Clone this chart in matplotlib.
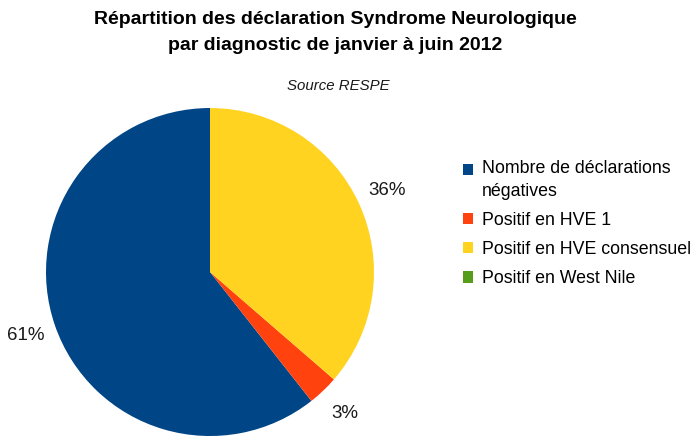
import matplotlib.pyplot as plt
from matplotlib.patches import Patch

plt.rcParams['font.family'] = ['Liberation Sans', 'DejaVu Sans']

# données (nombre de déclarations)
categories = ['Nombre de déclarations\nnégatives', 'Positif en HVE 1',
              'Positif en HVE consensuel', 'Positif en West Nile']
valeurs = [20, 1, 12, 0]
couleurs = ['#004586', '#ff420e', '#ffd320', '#579d1c']


def pourcentage(p):
    return '%d%%' % round(p) if p > 0.5 else ''


fig = plt.figure(figsize=(7, 4.46), dpi=100)
ax = fig.add_axes([0.0657, 0.0224, 0.4686, 0.7354])

ax.pie(valeurs, colors=couleurs, startangle=90, counterclock=True,
       autopct=pourcentage, pctdistance=1.19, radius=1.0,
       textprops={'fontsize': 13.5, 'color': '#1a1a1a'})
ax.set_xlim(-1, 1)
ax.set_ylim(-1, 1)
ax.set_aspect('equal')
ax.axis('off')

fig.text(0.479, 1 - 20 / 446, 'Répartition des déclaration Syndrome Neurologique',
         ha='center', va='center', fontsize=14, fontweight='bold')
fig.text(0.479, 1 - 46 / 446, 'par diagnostic de janvier à juin 2012',
         ha='center', va='center', fontsize=14, fontweight='bold')
fig.text(0.483, 1 - 86 / 446, 'Source RESPE', ha='center', va='center',
         fontsize=10.8, style='italic', color='#1a1a1a')

poignees = [Patch(facecolor=c, edgecolor='none') for c in couleurs]
leg = fig.legend(poignees, categories, loc='upper left',
                 bbox_to_anchor=(0.638, 0.677), frameon=False, fontsize=12.8,
                 handlelength=0.6, handleheight=0.6, handletextpad=0.5,
                 labelspacing=0.68)
for t in leg.get_texts():
    t.set_linespacing(1.45)
# carré de la première entrée aligné sur la première ligne
carre = leg.legend_handles[0]
carre.set_y(carre.get_y() + 7.6)

fig.savefig('out.png', dpi=100)
